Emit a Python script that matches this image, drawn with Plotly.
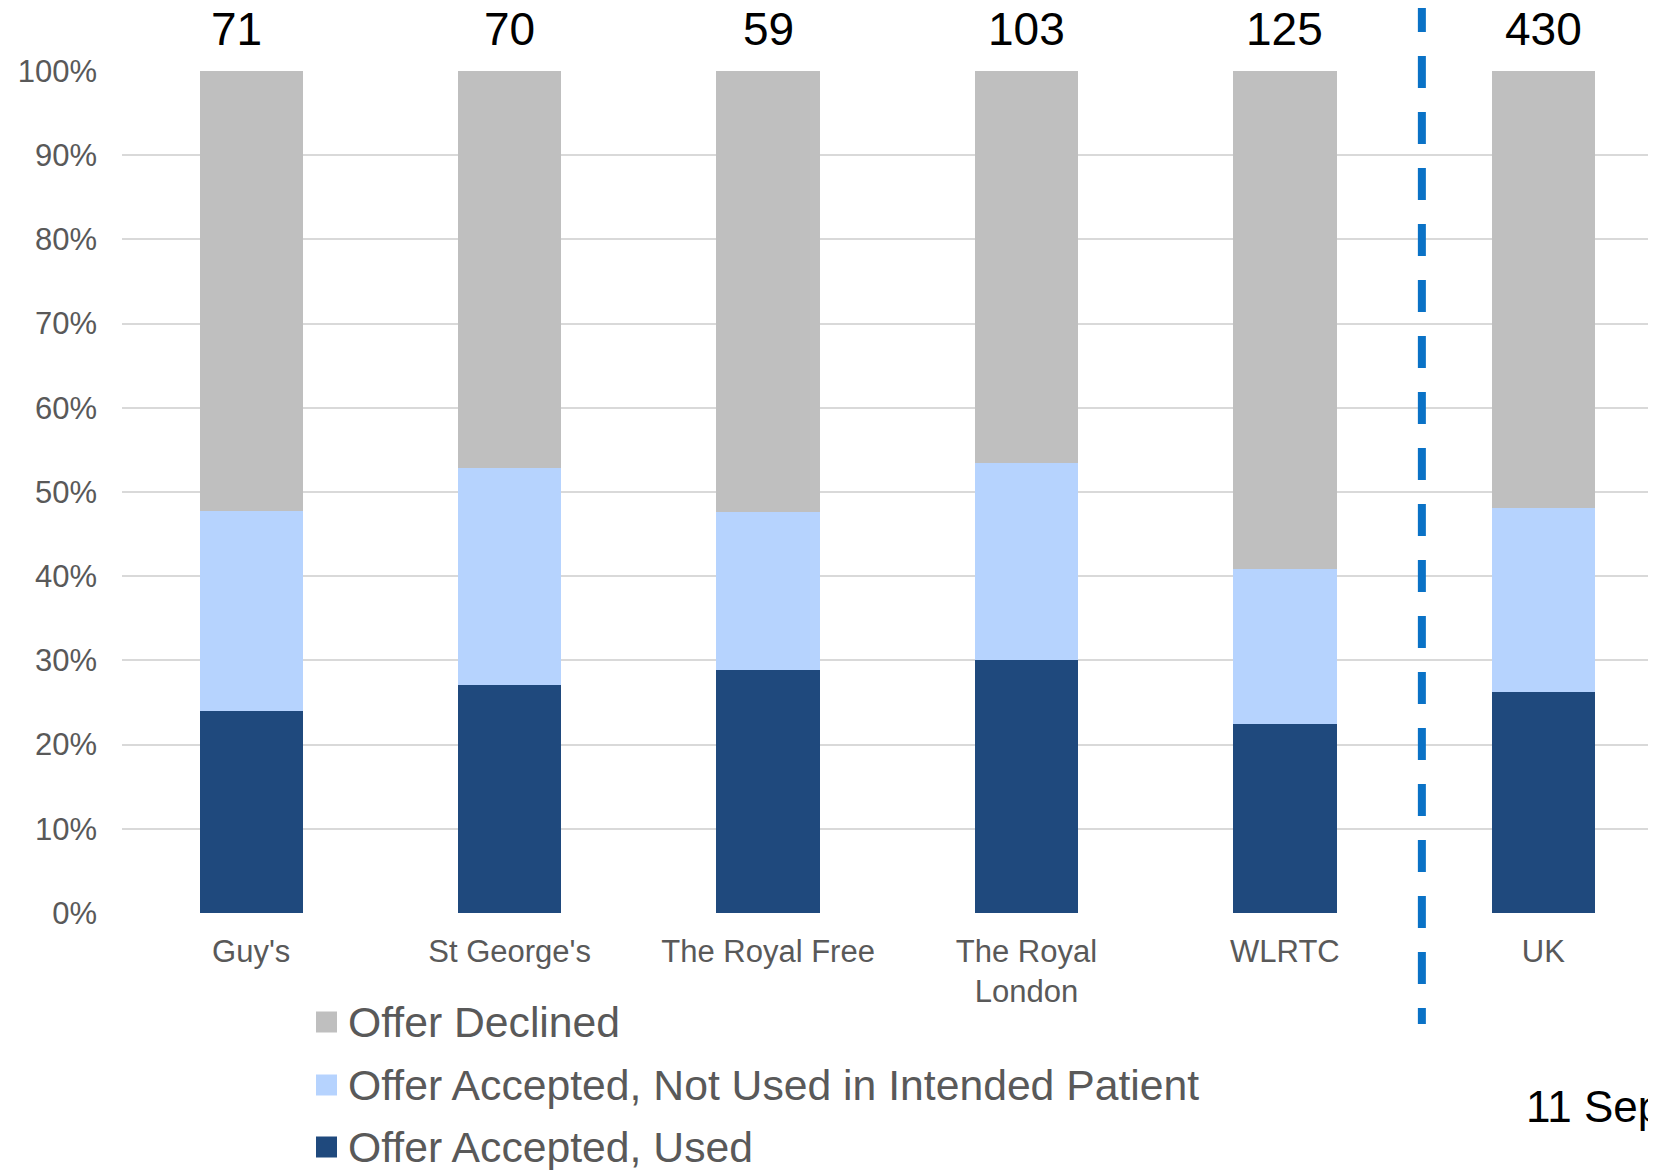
import plotly.graph_objects as go

# ---- data (percent of offers) ----
centres = ["Guy's", "St George's", "The Royal Free", "The Royal<br>London", "WLRTC", "UK"]
counts = [71, 70, 59, 103, 125, 430]
accepted_used = [24.0, 27.1, 28.9, 30.1, 22.4, 26.2]
accepted_not_used = [23.8, 25.7, 18.7, 23.4, 18.5, 21.9]
declined = [52.2, 47.2, 52.4, 46.5, 59.1, 51.9]
series_names = ["Offer Declined", "Offer Accepted, Not Used in Intended Patient", "Offer Accepted, Used"]
y_ticks = [0, 10, 20, 30, 40, 50, 60, 70, 80, 90, 100]
date_text = "11 Sep"
separator_pos = 4.53  # between WLRTC and UK, in category units

C_USED = "#1F497D"
C_NOTUSED = "#B6D3FE"
C_DECL = "#BFBFBF"
FONT = "Arial, Liberation Sans, sans-serif"
GREY_TXT = "#595959"

OFF = 8  # page body margin
W, H = 1656 - OFF, 1170 - OFF
ML, MR, MT = 122 - OFF, 0, 71 - OFF
MB = H - (913 - OFF)
XMIN, XMAX = -0.5, 5.436

xs = list(range(len(centres)))

fig = go.Figure()
for vals, col, name in [(accepted_used, C_USED, series_names[2]),
                        (accepted_not_used, C_NOTUSED, series_names[1]),
                        (declined, C_DECL, series_names[0])]:
    fig.add_trace(go.Bar(x=xs, y=vals, name=name, marker=dict(color=col, line=dict(width=0)),
                         width=0.4, showlegend=False))

fig.update_layout(
    barmode="stack",
    width=W, height=H,
    margin=dict(l=ML, r=MR, t=MT, b=MB, pad=0),
    paper_bgcolor="white", plot_bgcolor="white",
    font=dict(family=FONT, color=GREY_TXT, size=31),
)
fig.update_xaxes(range=[XMIN, XMAX], tickmode="array", tickvals=xs, ticktext=centres,
                 showgrid=False, zeroline=False, showline=False, ticks="",
                 tickfont=dict(size=31, color=GREY_TXT), ticklabelstandoff=17)
fig.update_yaxes(range=[0, 100], tickmode="array", tickvals=y_ticks,
                 ticktext=[f"{t}%" for t in y_ticks],
                 showgrid=True, gridcolor="#D9D9D9", gridwidth=2, zeroline=False,
                 showline=False, ticks="", tickfont=dict(size=31, color=GREY_TXT),
                 ticklabelstandoff=24)

# counts above bars
for i, n in enumerate(counts):
    fig.add_annotation(x=xs[i], y=100, xref="x", yref="y", text=str(n), showarrow=False,
                       yanchor="bottom", yshift=14, xshift=(-15 if i == 0 else 0),
                       font=dict(size=46, color="black", family=FONT))

plot_w = W - ML - MR
plot_h = H - MT - MB

def px_x(px):  # page pixel -> paper
    return (px - OFF - ML) / plot_w

def px_y(py):
    return (H - MB - (py - OFF)) / plot_h

# dashed separator line
xp = (separator_pos - XMIN) / (XMAX - XMIN)
fig.add_shape(type="line", xref="paper", yref="paper", x0=xp, x1=xp,
              y0=px_y(0), y1=px_y(1024),
              line=dict(color="#0A72C6", width=8, dash="32px,24px"))

# custom legend
legend_rows = [(series_names[0], C_DECL, 1022), (series_names[1], C_NOTUSED, 1085), (series_names[2], C_USED, 1147)]
for name, col, yc in legend_rows:
    fig.add_shape(type="rect", xref="paper", yref="paper",
                  x0=px_x(316), x1=px_x(337), y0=px_y(yc - 10.5), y1=px_y(yc + 10.5),
                  fillcolor=col, line=dict(width=0))
    fig.add_annotation(xref="paper", yref="paper", x=px_x(346), y=px_y(yc), text=name,
                       showarrow=False, xanchor="left", yanchor="middle",
                       font=dict(size=42.7, color=GREY_TXT, family=FONT))

fig.add_annotation(xref="paper", yref="paper", x=px_x(1524), y=px_y(1106), text=date_text,
                   showarrow=False, xanchor="left", yanchor="middle",
                   font=dict(size=44, color="black", family=FONT))

fig.write_html("out.html")
